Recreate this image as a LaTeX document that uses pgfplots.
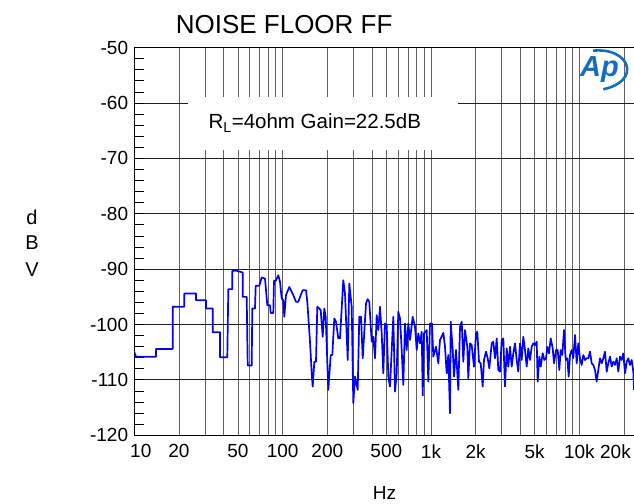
\documentclass[border=0pt]{standalone}
\usepackage{fontspec}
\setmainfont{Liberation Sans}
\usepackage{pgfplots}
\pgfplotsset{compat=1.18}
\definecolor{apblue}{RGB}{20,110,190}
\begin{document}
\begin{tikzpicture}[x=1pt,y=1pt]
\useasboundingbox (0,0) rectangle (634,503);
\begin{axis}[
  at={(134.3pt,67.7pt)}, anchor=south west,
  scale only axis, width=505.6pt, height=387.6pt,
  xmode=log, xmin=10, xmax=25600, ymin=-120, ymax=-50,
  xtick={10,20,50,100,200,500,1000,2000,5000,10000,20000},
  xticklabels={10\hspace*{-13pt},20,50,100,200,500,1k,2k,5k,10k,\hspace*{-17pt}20k},
  minor xtick={30,40,60,70,80,90,300,400,600,700,800,900,3000,4000,6000,7000,8000,9000},
  ytick={-120,-110,...,-50},
  minor ytick={-118,-116,...,-52},
  xmajorgrids=true, xminorgrids=true, ymajorgrids=true, yminorgrids=false,
  major grid style={black!62, line width=0.9pt},
  minor grid style={black!62, line width=0.9pt},
  every axis y grid/.append style={black!88},
  tick align=inside, ytick pos=left, xtick pos=bottom,
  major tick length=0pt, minor tick length=10pt,
  xtick style={draw=none},
  minor y tick style={black, line width=0.9pt},
  axis line style={black, line width=1.1pt},
  tick label style={font=\fontsize{19}{22}\selectfont},
  /pgf/number format/assume math mode=true,
  yticklabel style={inner sep=0pt, xshift=-6pt},
  xticklabel style={inner sep=0pt, yshift=-9pt},
]
\addplot[color={rgb,255:red,0;green,0;blue,255}, line width=1.7pt, line join=round] coordinates {
(10,-105.0) (10.27,-105.8) (14.01,-105.8) (14.01,-104.4) (18.15,-104.4)
(18.15,-96.8) (21.73,-96.8) (21.73,-94.4) (26.06,-94.4) (26.06,-95.6)
(30.43,-95.6) (30.43,-97.1) (33.78,-97.1) (33.78,-101.4) (37.82,-101.4)
(37.82,-105.9) (42.35,-105.9) (43.02,-93.6) (45.78,-93.6) (45.78,-90.3)
(49.23,-90.3) (53.8,-90.6) (53.8,-95.0) (57.24,-95.0) (58.14,-107.4)
(61.85,-107.4) (62.43,-97.1) (65.1,-97.1) (65.81,-93.0) (69.6,-93.0)
(72.24,-91.5) (76.04,-91.7) (78.8,-96.5) (82.17,-96.5) (83.07,-97.9)
(86.5,-97.9) (87.42,-92.1) (89.8,-92.1) (93.46,-91.1) (95.98,-92.3)
(98.54,-95.3) (101.0,-95.6) (102.6,-98.6) (105.3,-94.7) (110.9,-93.2)
(115.1,-94.1) (118.0,-94.7) (123.0,-95.9) (127.5,-95.9) (132.3,-94.7)
(136.5,-93.8) (143.7,-93.8) (146.6,-95.9) (152.9,-103.1) (157.0,-108.8)
(159.4,-111.2) (163.5,-106.7) (167.8,-106.7) (171.2,-96.8) (176.6,-97.1)
(180.5,-97.4) (186.2,-102.2) (190.9,-97.1) (195.1,-98.6) (203.1,-111.8)
(210.9,-105.5) (216.2,-105.5) (222.9,-98.9) (228.8,-99.5) (237.2,-102.5)
(243.5,-102.5) (256.3,-92.0) (263.2,-94.4) (274.5,-106.4) (281.4,-92.6)
(292.1,-96.8) (299.4,-114.2) (307.4,-109.4) (320.6,-111.8) (328.6,-98.6)
(337.5,-98.6) (346.5,-106.1) (364.7,-96.2) (374.4,-95.4) (383.8,-95.9)
(398.4,-103.1) (408.4,-102.2) (419.3,-106.1) (430.5,-98.3) (441.4,-101.0)
(453.2,-96.8) (465.3,-101.6) (477.0,-108.8) (489.7,-99.8) (502.9,-100.1)
(515.5,-109.4) (529.3,-111.2) (543.4,-104.6) (557.1,-98.6) (572,-112.1)
(587.3,-108.8) (602,-97.7) (618.1,-98.9) (634.6,-104.6) (650.6,-110.9)
(668,-99.8) (685.8,-104.6) (703.1,-99.8) (722,-102.8) (752.9,-98.6)
(780.3,-100.4) (801.2,-104.6) (821.3,-101.6) (843.3,-103.4) (865.8,-101.3)
(879.4,-112.8) (897.3,-101.6) (935.6,-101.0) (959.1,-110.3) (984.6,-99.8)
(1016,-99.8) (1036,-105.8) (1081,-104.0) (1120,-107.0) (1150,-102.8)
(1211,-101.5) (1243,-104.0) (1276,-108.8) (1308,-105.5) (1343,-116.0)
(1358,-99.5) (1401,-104.6) (1429,-109.4) (1474,-104.6) (1528,-111.8)
(1569,-100.4) (1611,-99.5) (1651,-106.7) (1695,-101.0) (1757,-104.0)
(1784,-109.7) (1832,-103.4) (1881,-103.7) (1949,-107.6) (2011,-101.6)
(2052,-101.3) (2107,-106.7) (2163,-107.0) (2231,-111.2) (2276,-106.4)
(2348,-104.9) (2411,-106.1) (2472,-107.9) (2566,-103.4) (2630,-103.1)
(2701,-106.1) (2773,-102.5) (2843,-108.2) (2919,-108.5) (2997,-102.8)
(3072,-102.5) (3154,-111.2) (3239,-104.3) (3320,-107.6) (3409,-104.0)
(3500,-107.6) (3588,-105.2) (3684,-103.4) (3782,-106.4) (3877,-108.5)
(3981,-103.4) (4087,-106.4) (4190,-102.2) (4302,-104.6) (4417,-107.6)
(4528,-104.3) (4649,-106.4) (4773,-104.0) (4893,-103.4) (5024,-103.7)
(5158,-103.1) (5239,-110.3) (5372,-105.8) (5489,-107.6) (5662,-105.2)
(5804,-106.4) (5959,-106.1) (6080,-104.0) (6243,-105.2) (6411,-102.5)
(6613,-104.3) (6748,-107.0) (6961,-104.6) (7147,-104.6) (7327,-108.2)
(7488,-104.6) (7677,-105.5) (7882,-101.0) (8093,-106.4) (8296,-106.1)
(8478,-109.4) (8650,-105.5) (8882,-104.6) (9106,-106.1) (9348,-101.9)
(9598,-107.0) (9839,-103.4) (10100,-106.1) (10370,-107.3) (10630,-105.5)
(10920,-106.4) (11210,-106.1) (11490,-106.1) (11800,-104.9) (12110,-107.0)
(12420,-107.3) (12750,-108.2) (13090,-110.3) (13420,-108.2) (13780,-106.1)
(14150,-107.0) (14510,-106.1) (14890,-104.9) (15290,-108.5) (15670,-107.0)
(16090,-105.8) (16520,-107.6) (16940,-106.7) (17390,-107.3) (17860,-106.1)
(18310,-108.5) (18790,-105.8) (19300,-106.4) (19790,-105.2) (20320,-108.8)
(20860,-106.7) (21380,-106.1) (21950,-107.3) (22540,-106.4) (23110,-108.5)
(23360,-111.8)
};
\end{axis}
\fill[white] (188,353) rectangle (458,406);
\node[anchor=base west, inner sep=0pt, font=\fontsize{20.5}{24}\selectfont] at (208.3,374) {R\textsubscript{L}=4ohm Gain=22.5dB};
\node[anchor=base west, inner sep=0pt, font=\fontsize{26}{30}\selectfont] at (175.6,469) {NOISE FLOOR FF};
\node[anchor=base, inner sep=0pt, font=\fontsize{19}{22}\selectfont] at (384.4,3.5) {Hz};
\node[anchor=base, inner sep=0pt, font=\fontsize{20}{24}\selectfont] at (32,278) {d};
\node[anchor=base, inner sep=0pt, font=\fontsize{20}{24}\selectfont] at (32,253) {B};
\node[anchor=base, inner sep=0pt, font=\fontsize{20}{24}\selectfont] at (32,226.3) {V};
\node[anchor=base west, inner sep=0pt, text=apblue, font=\fontsize{29}{32}\selectfont\bfseries\itshape] at (580,426) {Ap};
\draw[apblue, line width=2.6pt] (593,452.3) .. controls (630,456) and (642,422) .. (603.3,413.7);
\end{tikzpicture}
\end{document}
